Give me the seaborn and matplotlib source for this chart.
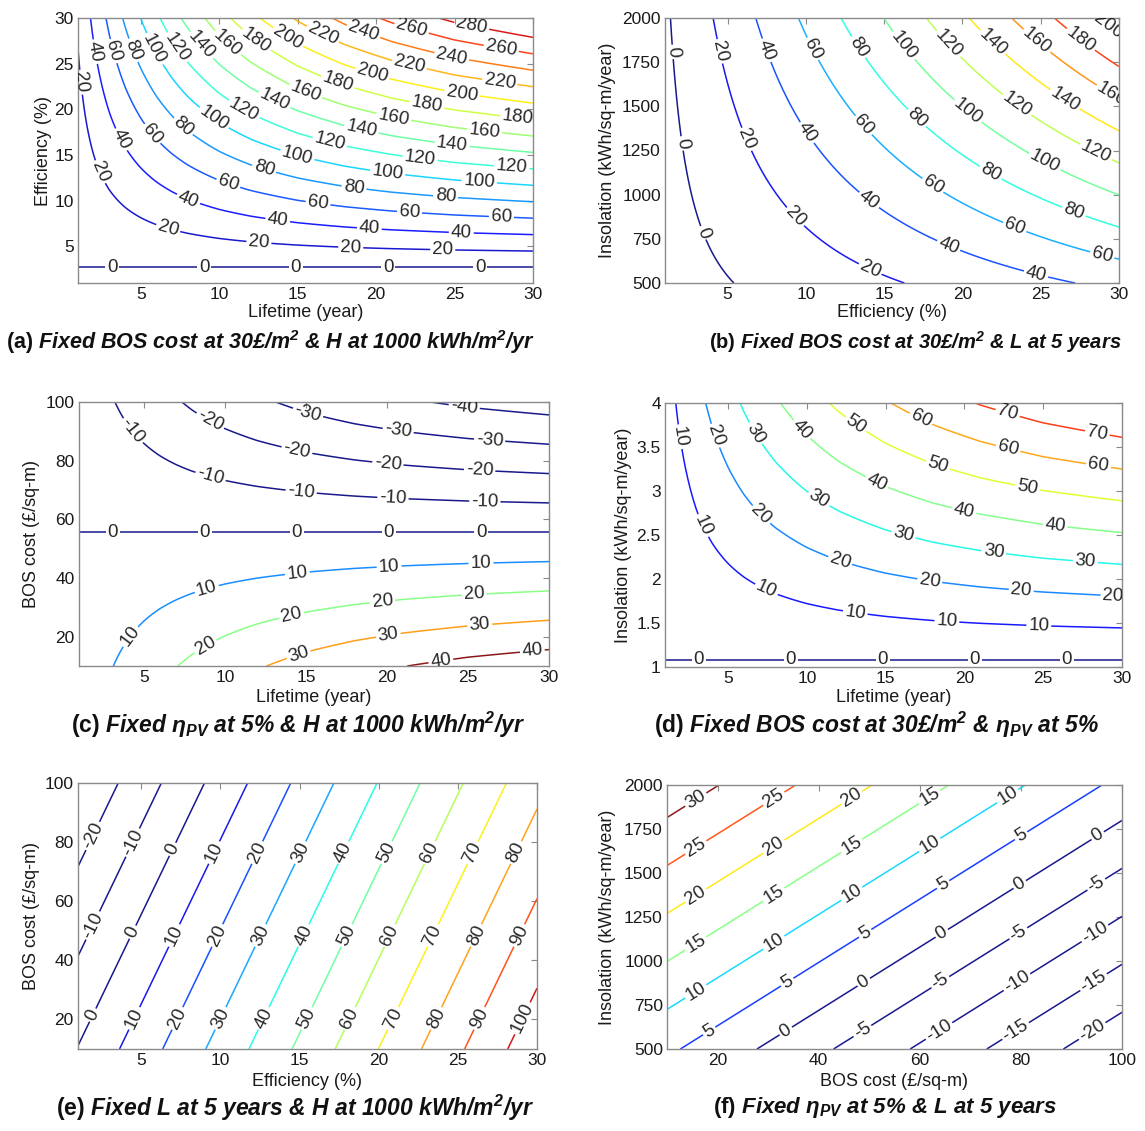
import numpy as np
import matplotlib
matplotlib.use("Agg")
import matplotlib.pyplot as plt
import seaborn as sns

# ---------------- data ----------------
# lifetime factor (value of one year of output, relative to a 30-year life)
lifetime_years = [1, 1.5, 2, 2.5, 3, 4, 5, 6, 7, 8, 10, 12, 15, 18, 21, 25, 30]
lifetime_factor = [0.075, 0.111, 0.146, 0.179, 0.212, 0.273, 0.330, 0.384, 0.434,
                   0.481, 0.566, 0.640, 0.734, 0.811, 0.873, 0.939, 1.000]
energy_value = 0.01112      # £ per (% efficiency x kWh/m2/yr) on a 30-year basis
daily_energy_value = 27.7   # £ per (kWh/m2/day) at 5 % efficiency, 30-year basis
fixed_bos = 30              # £/m2
fixed_insolation = 1000     # kWh/m2/yr
fixed_eff = 5               # %
fixed_life = 5              # years

levels_a = list(range(0, 281, 20))
levels_b = list(range(0, 201, 20))
levels_c = list(range(-40, 41, 10))
levels_d = list(range(0, 71, 10))
levels_e = list(range(-20, 101, 10))
levels_f = list(range(-20, 31, 5))

ticks_life = [5, 10, 15, 20, 25, 30]
ticks_eff = [5, 10, 15, 20, 25, 30]
ticks_ins = [500, 750, 1000, 1250, 1500, 1750, 2000]
ticks_bos = [20, 40, 60, 80, 100]
ticks_bos_x = [20, 40, 60, 80, 100]
ticks_ins_day = [1, 1.5, 2, 2.5, 3, 3.5, 4]
ticklabels_ins_day = ["1", "1.5", "2", "2.5", "3", "3.5", "4"]

captions = [
    r"$\mathbf{(a)}$ Fixed BOS cost at 30£/m$^2$ & H at 1000 kWh/m$^2$/yr",
    r"$\mathbf{(b)}$ Fixed BOS cost at 30£/m$^2$ & L at 5 years",
    r"$\mathbf{(c)}$ Fixed $\eta_{PV}$ at 5% & H at 1000 kWh/m$^2$/yr",
    r"$\mathbf{(d)}$ Fixed BOS cost at 30£/m$^2$ & $\eta_{PV}$ at 5%",
    r"$\mathbf{(e)}$ Fixed L at 5 years & H at 1000 kWh/m$^2$/yr",
    r"$\mathbf{(f)}$ Fixed $\eta_{PV}$ at 5% & L at 5 years",
]

# ---------------- style ----------------
sns.set_style("white")
plt.rcParams['font.family'] = ['Liberation Sans', 'DejaVu Sans']
plt.rcParams['mathtext.fontset'] = 'custom'
plt.rcParams['mathtext.rm'] = 'Liberation Sans:bold:italic'
plt.rcParams['mathtext.it'] = 'Liberation Sans:bold:italic'
plt.rcParams['mathtext.bf'] = 'Liberation Sans:bold'

W, H = 1145, 1131
fig = plt.figure(figsize=(W / 100, H / 100), dpi=100)
fig.patch.set_facecolor('white')


def life_factor(L):
    return np.interp(L, lifetime_years, lifetime_factor)


def add_axes_px(x0, y0, x1, y1):
    return fig.add_axes([x0 / W, 1 - y1 / H, (x1 - x0) / W, (y1 - y0) / H])


FRAME = '#8a8a8a'


def style_axes(ax, xlim, ylim, xticks, yticks, xlabel, ylabel, ylab_px, xlab_px, box,
               yticklabels=None):
    ax.set_xlim(*xlim)
    ax.set_ylim(*ylim)
    ax.set_xticks(xticks)
    ax.set_xticklabels([str(t) for t in xticks])
    ax.set_yticks(yticks)
    ax.set_yticklabels(yticklabels if yticklabels else [str(t) for t in yticks])
    ax.tick_params(direction='in', length=4, width=0.8, color=FRAME, labelsize=12.5,
                   labelcolor='#1a1a1a', top=True, right=True, pad=3)
    for s in ax.spines.values():
        s.set_color(FRAME)
        s.set_linewidth(1.0)
    x0, y0, x1, y1 = box
    ax.set_xlabel(xlabel, fontsize=13, color='#1a1a1a')
    ax.set_ylabel(ylabel, fontsize=13, color='#1a1a1a')
    ax.yaxis.set_label_coords((ylab_px + 8.5 - x0) / (x1 - x0), 0.5)
    ax.xaxis.set_label_coords(0.5, -(xlab_px - 9 - y1) / (y1 - y0))


def label_points(ax, cs, spacing=92.0, offset=34.0):
    pts = []
    inv = ax.transData.inverted()
    for path in cs.get_paths():
        if len(path.vertices) == 0:
            continue
        for poly in path.to_polygons(closed_only=False):
            if len(poly) < 2:
                continue
            d = ax.transData.transform(poly)
            if d[0, 0] > d[-1, 0] + 1 or (abs(d[0, 0] - d[-1, 0]) <= 1 and d[0, 1] < d[-1, 1]):
                d = d[::-1]
            seg = np.hypot(np.diff(d[:, 0]), np.diff(d[:, 1]))
            cum = np.concatenate([[0], np.cumsum(seg)])
            total = cum[-1]
            if total < 15:
                continue
            targets = []
            s = offset if total > offset + 8 else total / 2
            while s <= total - 8:
                targets.append(s)
                s += spacing
            for s in targets:
                px = np.interp(s, cum, d[:, 0])
                py = np.interp(s, cum, d[:, 1])
                pts.append(tuple(inv.transform((px, py))))
    return pts


def draw_panel(box, xlim, ylim, field, levels, vmax, xticks, yticks, xlabel, ylabel,
               ylab_px, xlab_px, yticklabels=None):
    ax = add_axes_px(*box)
    style_axes(ax, xlim, ylim, xticks, yticks, xlabel, ylabel, ylab_px, xlab_px, box,
               yticklabels)
    xs = np.linspace(xlim[0], xlim[1], 400)
    ys = np.linspace(ylim[0], ylim[1], 400)
    X, Y = np.meshgrid(xs, ys)
    Z = field(X, Y)
    norm = matplotlib.colors.Normalize(vmin=0, vmax=vmax)
    cs = ax.contour(X, Y, Z, levels=levels, cmap='jet', norm=norm, linewidths=1.1,
                    alpha=0.9)
    pts = label_points(ax, cs)
    ax.clabel(cs, manual=pts, fmt='%d', fontsize=13.5, inline=True, inline_spacing=2,
              colors='#111111')
    return ax


# (a) lifetime x efficiency
draw_panel((78, 18, 533, 283), (1, 30), (1, 30),
           lambda L, e: life_factor(L) * (energy_value * e * fixed_insolation - fixed_bos),
           levels_a, 303, ticks_life, ticks_eff, 'Lifetime (year)', 'Efficiency (%)', 43, 313)
# (b) efficiency x insolation
draw_panel((665, 18, 1119, 283), (1, 30), (500, 2000),
           lambda e, h: life_factor(fixed_life) * (energy_value * e * h - fixed_bos),
           levels_b, 210, ticks_eff, ticks_ins, 'Efficiency (%)',
           'Insolation (kWh/sq-m/year)', 608, 313)
# (c) lifetime x BOS cost
draw_panel((79, 402, 549, 666), (1, 30), (10, 100),
           lambda L, b: life_factor(L) * (energy_value * fixed_eff * fixed_insolation - b),
           levels_c, 40, ticks_life, ticks_bos, 'Lifetime (year)', 'BOS cost (£/sq-m)', 31, 698)
# (d) lifetime x daily insolation
draw_panel((665, 403, 1122, 667), (1, 30), (1, 4),
           lambda L, hd: life_factor(L) * (daily_energy_value * hd - fixed_bos),
           levels_d, 81, ticks_life, ticks_ins_day, 'Lifetime (year)',
           'Insolation (kWh/sq-m/year)', 623, 698, yticklabels=ticklabels_ins_day)
# (e) efficiency x BOS cost
draw_panel((78, 783, 537, 1049), (1, 30), (10, 100),
           lambda e, b: life_factor(fixed_life) * (energy_value * e * fixed_insolation - b),
           levels_e, 107, ticks_eff, ticks_bos, 'Efficiency (%)', 'BOS cost (£/sq-m)', 31, 1082)
# (f) BOS cost x insolation
draw_panel((667, 785, 1122, 1049), (10, 100), (500, 2000),
           lambda b, h: life_factor(fixed_life) * (energy_value * fixed_eff * h - b),
           levels_f, 30, ticks_bos_x, ticks_ins, 'BOS cost (£/sq-m)',
           'Insolation (kWh/sq-m/year)', 608, 1082)

caption_pos = [(271, 342), (915, 342), (298, 725), (877, 725), (295, 1108), (885, 1108)]
caption_size = [15.5, 14.5, 16.5, 16.5, 16.5, 16.0]
for (cx, cy), txt, fs in zip(caption_pos, captions, caption_size):
    fig.text(cx / W, 1 - cy / H, txt, ha='center', va='center', fontsize=fs,
             fontweight='bold', fontstyle='italic', color='#111111')

fig.savefig('out.png', dpi=100, facecolor='white')
